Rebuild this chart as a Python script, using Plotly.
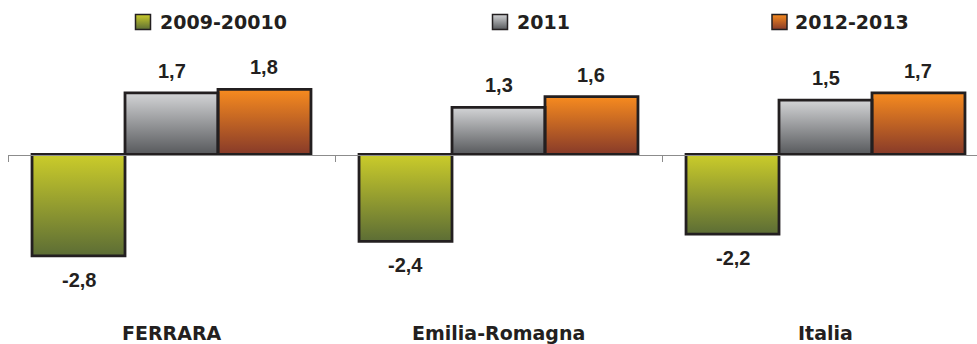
import plotly.graph_objects as go

categories = ["FERRARA", "Emilia-Romagna", "Italia"]
series_names = ["2009-20010", "2011", "2012-2013"]
values_2009_2010 = [-2.8, -2.4, -2.2]
values_2011 = [1.7, 1.3, 1.5]
values_2012_2013 = [1.8, 1.6, 1.7]
series_values = [values_2009_2010, values_2011, values_2012_2013]

# gradient colours (top, bottom)
grad = [("#CBCC2A", "#5C6D35"), ("#D3D4D6", "#57595C"), ("#F78B1F", "#873A29")]
OUT = "#231F20"

W, H = 977, 344
PX_L = 8
Y_TOP, Y_BOT = 40, 314
ZERO_PX = 154.5
SCALE = 36.2
yr = [-(Y_BOT - ZERO_PX) / SCALE, (ZERO_PX - Y_TOP) / SCALE]
xr = [-0.5, -0.5 + (W - PX_L) / 327.0]
bargap = 0.147
bw = (1 - bargap) / 3

fig = go.Figure()

# gradient fills on main axis
for k, vals in enumerate(series_values):
    top, bot = grad[k]
    for i, v in enumerate(vals):
        x0 = i - 0.5 + bargap / 2 + k * bw
        x1 = x0 + bw
        hi, lo = max(v, 0), min(v, 0)
        fig.add_trace(go.Scatter(
            x=[x0, x1, x1, x0, x0], y=[lo, lo, hi, hi, lo],
            mode="lines", fill="toself", line=dict(width=0),
            fillgradient=dict(type="vertical", colorscale=[[0, bot], [1, top]]),
            showlegend=False, hoverinfo="skip", xaxis="x", yaxis="y"))

# bar outlines on overlay axis
for k, vals in enumerate(series_values):
    fig.add_trace(go.Bar(
        x=[0, 1, 2], y=vals, name=series_names[k],
        marker=dict(color="rgba(0,0,0,0)", line=dict(color=OUT, width=2.8)),
        showlegend=False, xaxis="x2", yaxis="y"))

# legend markers
leg_x = [143, 500, 779.5]
leg_text_x = [158, 515, 793]
for k in range(3):
    top, bot = grad[k]
    fig.add_trace(go.Scatter(
        x=[leg_x[k]], y=[22], mode="markers",
        marker=dict(symbol="square", size=15, color=top,
                    gradient=dict(type="vertical", color=bot),
                    line=dict(color=OUT, width=1.5)),
        showlegend=False, hoverinfo="skip", xaxis="x3", yaxis="y3"))

ann = []
for k in range(3):
    ann.append(dict(x=leg_text_x[k], y=22, xref="x3", yref="y3", text=series_names[k],
                    showarrow=False, xanchor="left", yanchor="middle",
                    font=dict(family="DejaVu Sans", size=19, color=OUT, weight="bold")))

for k, vals in enumerate(series_values):
    for i, v in enumerate(vals):
        xc = i - 0.5 + bargap / 2 + (k + 0.5) * bw
        ann.append(dict(x=xc, y=v, xref="x", yref="y",
                        text=f"{v:.1f}".replace(".", ","), showarrow=False,
                        yshift=22 if v > 0 else -24, xanchor="center", yanchor="middle",
                        font=dict(family="Liberation Sans", size=20, color=OUT, weight="bold")))

for i, c in enumerate(categories):
    ann.append(dict(x=i, y=333, xref="x", yref="y3", text=c, showarrow=False,
                    xanchor="center", yanchor="middle",
                    font=dict(family="DejaVu Sans", size=19, color=OUT, weight="bold")))

dom_x = [PX_L / W, 1]
dom_y = [(H - Y_BOT) / H, (H - Y_TOP) / H]

fig.update_layout(
    width=W, height=H, margin=dict(l=0, r=0, t=0, b=0),
    paper_bgcolor="white", plot_bgcolor="rgba(0,0,0,0)",
    barmode="group", bargap=bargap, bargroupgap=0,
    showlegend=False, annotations=ann,
    xaxis=dict(domain=dom_x, range=xr, visible=False, fixedrange=True),
    xaxis2=dict(domain=dom_x, range=xr, overlaying="x", anchor="free",
                position=(H - ZERO_PX) / H, showline=True, linecolor="#8C8C8C", linewidth=1,
                ticks="outside", tickvals=[-0.5, 0.5, 1.5], ticklen=6, tickcolor="#8C8C8C",
                tickwidth=1, showticklabels=False, showgrid=False, zeroline=False),
    yaxis=dict(domain=dom_y, range=yr, visible=False, showgrid=False, zeroline=False),
    xaxis3=dict(domain=[0, 1], range=[0, W], visible=False, anchor="y3"),
    yaxis3=dict(domain=[0, 1], range=[H, 0], visible=False, anchor="x3"),
)

fig.write_html("out.html")
